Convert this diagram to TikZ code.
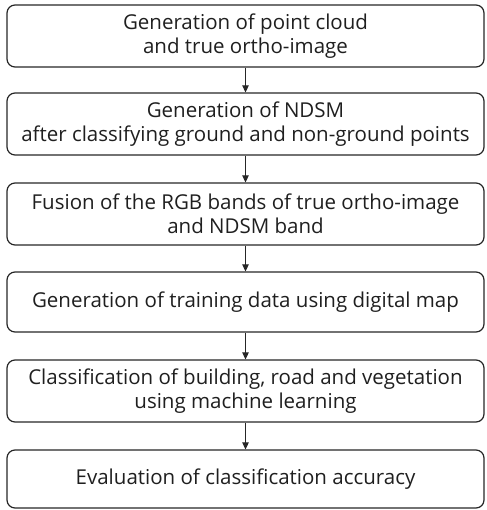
\documentclass[tikz,border=0pt]{standalone}
\usepackage{fontspec}
\setmainfont{Open Sans}
\usetikzlibrary{arrows.meta}

\begin{document}
\begin{tikzpicture}[x=1pt, y=-1pt,
		stagebox/.style={rectangle, draw=black!85, line width=1.2pt, rounded corners=8pt, minimum width=477pt, minimum height=62pt, inner sep=0pt, align=center, text=black!88, font=\fontsize{20.5}{23.5}\selectfont},
		flow/.style={-{Triangle[length=7pt, width=6.5pt]}, line width=1pt, draw=black!85}]
		\useasboundingbox (0,0) rectangle (486,510);

		\node (rectcloud) [stagebox] at (245.5,36) {Generation of point cloud\\and true ortho-image};

		\node (rectndsm) [stagebox] at (245.5,124) {Generation of NDSM\\after classifying ground and non-ground points};

		\node (rectfusion) [stagebox] at (245.5,214) {Fusion of the RGB bands of true ortho-image\\and NDSM band};

		\node (recttrain) [stagebox, minimum height=60pt] at (245.5,302) {Generation of training data using digital map};

		\node (rectclass) [stagebox] at (245.5,391) {Classification of building, road and vegetation\\using machine learning};

		\node (recteval) [stagebox, minimum height=58pt] at (245.5,479) {Evaluation of classification accuracy};

		\draw [flow] (rectcloud) to (rectndsm);
		\draw [flow] (rectndsm) to (rectfusion);
		\draw [flow] (rectfusion) to (recttrain);
		\draw [flow] (recttrain) to (rectclass);
		\draw [flow] (rectclass) to (recteval);

		\end{tikzpicture}
\end{document}
